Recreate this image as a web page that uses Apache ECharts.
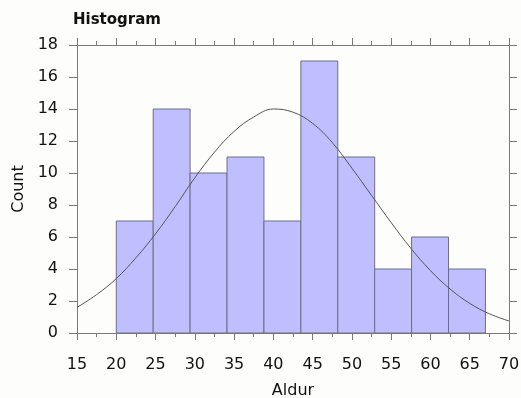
<!DOCTYPE html>
<html>
<head>
<meta charset="utf-8">
<script src="https://cdn.jsdelivr.net/npm/echarts@6/dist/echarts.min.js"></script>
<style>
  html, body { margin: 0; padding: 0; background: #fdfdfb; }
  #chart { width: 521px; height: 398px; }
</style>
</head>
<body>
<div id="chart"></div>
<script>
// Histogram bin edges (Aldur) and counts per bin
const binEdges = [20, 24.7, 29.4, 34.1, 38.8, 43.5, 48.2, 52.9, 57.6, 62.3, 67.0];
const counts = [7, 14, 10, 11, 7, 17, 11, 4, 6, 4];

// Fitted density curve, sampled along the x axis
const curveX = [15, 17.5, 20, 22.5, 25, 27.5, 30, 32.5, 35, 37.5, 40, 42.5, 45, 47.5, 50, 52.5, 55, 57.5, 60, 62.5, 65, 67.5, 70];
const curveY = [1.6, 2.4, 3.4, 4.7, 6.2, 7.9, 9.7, 11.3, 12.6, 13.5, 14.0, 13.8, 13.1, 11.9, 10.3, 8.6, 6.9, 5.3, 3.9, 2.75, 1.85, 1.2, 0.75];

const xTicks = { min: 15, max: 70, interval: 5 };
const yTicks = { min: 0, max: 18, interval: 2 };

const FONT = 'DejaVu Sans';
const AXIS_COLOR = '#7a7a7a';

const bins = counts.map((c, i) => [binEdges[i], binEdges[i + 1], c]);
const curve = curveX.map((x, i) => [x, curveY[i]]);

const chart = echarts.init(document.getElementById('chart'), null, { renderer: 'canvas' });

function xAxisCfg(position, showLabels) {
  return {
    type: 'value', position: position,
    min: xTicks.min, max: xTicks.max, interval: xTicks.interval,
    axisLine: { show: true, onZero: false, lineStyle: { color: AXIS_COLOR, width: 1 } },
    axisTick: { show: true, inside: false, length: 7, lineStyle: { color: AXIS_COLOR } },
    minorTick: { show: true, splitNumber: 2, length: 4, lineStyle: { color: AXIS_COLOR } },
    splitLine: { show: false },
    axisLabel: { show: showLabels, color: '#111', fontFamily: FONT, fontSize: 16, margin: 24 },
    name: showLabels ? 'Aldur' : '',
    nameLocation: 'middle', nameGap: 50,
    nameTextStyle: { color: '#111', fontFamily: FONT, fontSize: 16 }
  };
}

function yAxisCfg(position, showLabels) {
  return {
    type: 'value', position: position,
    min: yTicks.min, max: yTicks.max, interval: yTicks.interval,
    axisLine: { show: true, onZero: false, lineStyle: { color: AXIS_COLOR, width: 1 } },
    axisTick: { show: true, inside: false, length: 8, lineStyle: { color: AXIS_COLOR } },
    splitLine: { show: false },
    axisLabel: { show: showLabels, color: '#111', fontFamily: FONT, fontSize: 16, margin: 19 },
    name: showLabels ? 'Count' : '',
    nameLocation: 'middle', nameGap: 48, nameRotate: 90,
    nameTextStyle: { color: '#111', fontFamily: FONT, fontSize: 16 }
  };
}

chart.setOption({
  backgroundColor: '#fdfdfb',
  animation: false,
  title: {
    text: 'Histogram', left: 68, top: 8,
    textStyle: { color: '#111', fontFamily: FONT, fontSize: 15, fontWeight: 'bold' }
  },
  grid: { left: 77, right: 12, top: 45, bottom: 65, containLabel: false, outerBoundsMode: 'none' },
  xAxis: [xAxisCfg('bottom', true), xAxisCfg('top', false)],
  yAxis: [yAxisCfg('left', true), yAxisCfg('right', false)],
  series: [
    {
      type: 'custom',
      xAxisIndex: 0, yAxisIndex: 0,
      data: bins,
      encode: { x: [0, 1], y: 2 },
      renderItem: function (params, api) {
        const p0 = api.coord([api.value(0), api.value(2)]);
        const p1 = api.coord([api.value(1), 0]);
        return {
          type: 'rect',
          shape: { x: p0[0], y: p0[1], width: p1[0] - p0[0], height: p1[1] - p0[1] },
          style: { fill: '#bfbfff', stroke: '#6e6e80', lineWidth: 1 }
        };
      }
    },
    {
      type: 'line',
      xAxisIndex: 0, yAxisIndex: 0,
      data: curve,
      smooth: 0.4,
      symbol: 'none',
      lineStyle: { color: '#555', width: 1 },
      z: 3
    }
  ]
});
</script>
</body>
</html>
